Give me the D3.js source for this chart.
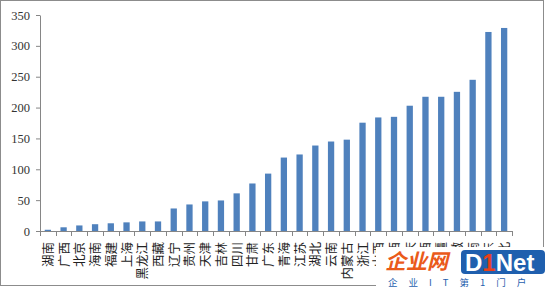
<!DOCTYPE html>
<html>
<head>
<meta charset="utf-8">
<script src="https://cdn.jsdelivr.net/npm/d3@7"></script>
<style>
  body { margin: 0; background: #fff; }
  svg { display: block; }
</style>
</head>
<body>
<div id="chart"></div>
<script>
// provinces, sorted by value
const provinces = ["湖南", "广西", "北京", "海南", "福建", "上海", "黑龙江", "西藏", "辽宁", "贵州",
                   "天津", "吉林", "四川", "甘肃", "广东", "青海", "江苏", "湖北", "云南", "内蒙古",
                   "浙江", "山西", "江西", "重庆", "陕西", "新疆", "安徽", "河南", "山东", "河北"];
const values = [2, 6, 9, 11, 12.5, 14, 15.5, 15.5, 36.5, 43,
                48, 49.5, 61, 77, 93, 119, 124, 138.5, 145, 148,
                175.5, 184, 185, 203, 217.5, 217.5, 225.5, 245, 322.5, 329];
const yTicks = [0, 50, 100, 150, 200, 250, 300, 350];

const W = 545, H = 289;
const margin = {top: 15, right: 33, bottom: 58, left: 40};
const width = W - margin.left - margin.right,
      height = H - margin.top - margin.bottom;

const root = d3.select("#chart").append("svg")
    .attr("width", W)
    .attr("height", H);

// outer frame
root.append("rect")
    .attr("x", 0.5).attr("y", 0.5)
    .attr("width", W - 2).attr("height", H - 4)
    .attr("fill", "none")
    .attr("stroke", "#8c8c8c");

const svg = root.append("g")
    .attr("transform", `translate(${margin.left},${margin.top})`);

const x = d3.scaleBand()
    .domain(provinces)
    .range([0, width])
    .paddingInner(0.6)
    .paddingOuter(0.3);

const y = d3.scaleLinear()
    .domain([0, 350])
    .range([height, 0]);

// Y axis
const yAxis = svg.append("g")
    .call(d3.axisLeft(y).tickValues(yTicks).tickSize(4).tickSizeOuter(0).tickPadding(6));
yAxis.select(".domain").attr("stroke", "#868686");
yAxis.selectAll(".tick line").attr("stroke", "#868686");
yAxis.selectAll("text")
    .attr("fill", "#333")
    .style("font-family", "'Liberation Serif', 'Times New Roman', serif")
    .style("font-size", "12.5px");

// X axis with ticks at category boundaries
const step = width / provinces.length;
svg.append("line")
    .attr("x1", 0).attr("x2", width)
    .attr("y1", height + 0.5).attr("y2", height + 0.5)
    .attr("stroke", "#868686");
svg.selectAll(".xtick")
    .data(d3.range(provinces.length + 1))
    .enter()
    .append("line")
    .attr("x1", i => Math.round(i * step) + 0.5)
    .attr("x2", i => Math.round(i * step) + 0.5)
    .attr("y1", height)
    .attr("y2", height + 5)
    .attr("stroke", "#868686");

// bars
svg.selectAll(".bar")
    .data(values)
    .enter()
    .append("rect")
    .attr("class", "bar")
    .attr("x", (d, i) => x(provinces[i]))
    .attr("y", d => y(d))
    .attr("width", x.bandwidth())
    .attr("height", d => height - y(d))
    .attr("fill", "#4f81bd");

// category labels, rotated
svg.selectAll(".label")
    .data(provinces)
    .enter()
    .append("text")
    .attr("class", "label")
    .attr("transform", d => `translate(${x(d) + x.bandwidth() / 2 + 5},${height + 11}) rotate(-90)`)
    .attr("text-anchor", "end")
    .attr("fill", "#222")
    .style("font-family", "'Noto Sans CJK SC', sans-serif")
    .style("font-size", "12.5px")
    .text(d => d);

// watermark, sits over the last labels
const wm = root.append("g");
wm.append("rect")
    .attr("x", 376).attr("y", 247)
    .attr("width", W - 376).attr("height", H - 247)
    .attr("fill", "#fff");
wm.append("text")
    .attr("x", 385).attr("y", 269)
    .attr("fill", "#ea5a1a")
    .style("font-family", "'Noto Sans CJK SC', sans-serif")
    .style("font-weight", "bold")
    .style("font-style", "italic")
    .style("font-size", "21px")
    .text("企业网");
wm.append("rect")
    .attr("x", 461).attr("y", 250)
    .attr("width", 84).attr("height", 24)
    .attr("rx", 4)
    .attr("fill", "#1f5fae");
const logo = wm.append("text")
    .attr("x", 465).attr("y", 271)
    .style("font-family", "'Liberation Sans', Arial, sans-serif")
    .style("font-weight", "bold")
    .style("font-size", "24px");
logo.append("tspan").attr("fill", "#fff").text("D");
logo.append("tspan").attr("fill", "#e8401c").text("1");
logo.append("tspan").attr("fill", "#fff").text("Net");
wm.append("text")
    .attr("x", 388).attr("y", 285.5)
    .attr("fill", "#1f5fae")
    .style("font-family", "'Noto Sans CJK SC', sans-serif")
    .style("font-size", "9.5px")
    .style("letter-spacing", "11px")
    .text("企业IT第1门户");
</script>
</body>
</html>
